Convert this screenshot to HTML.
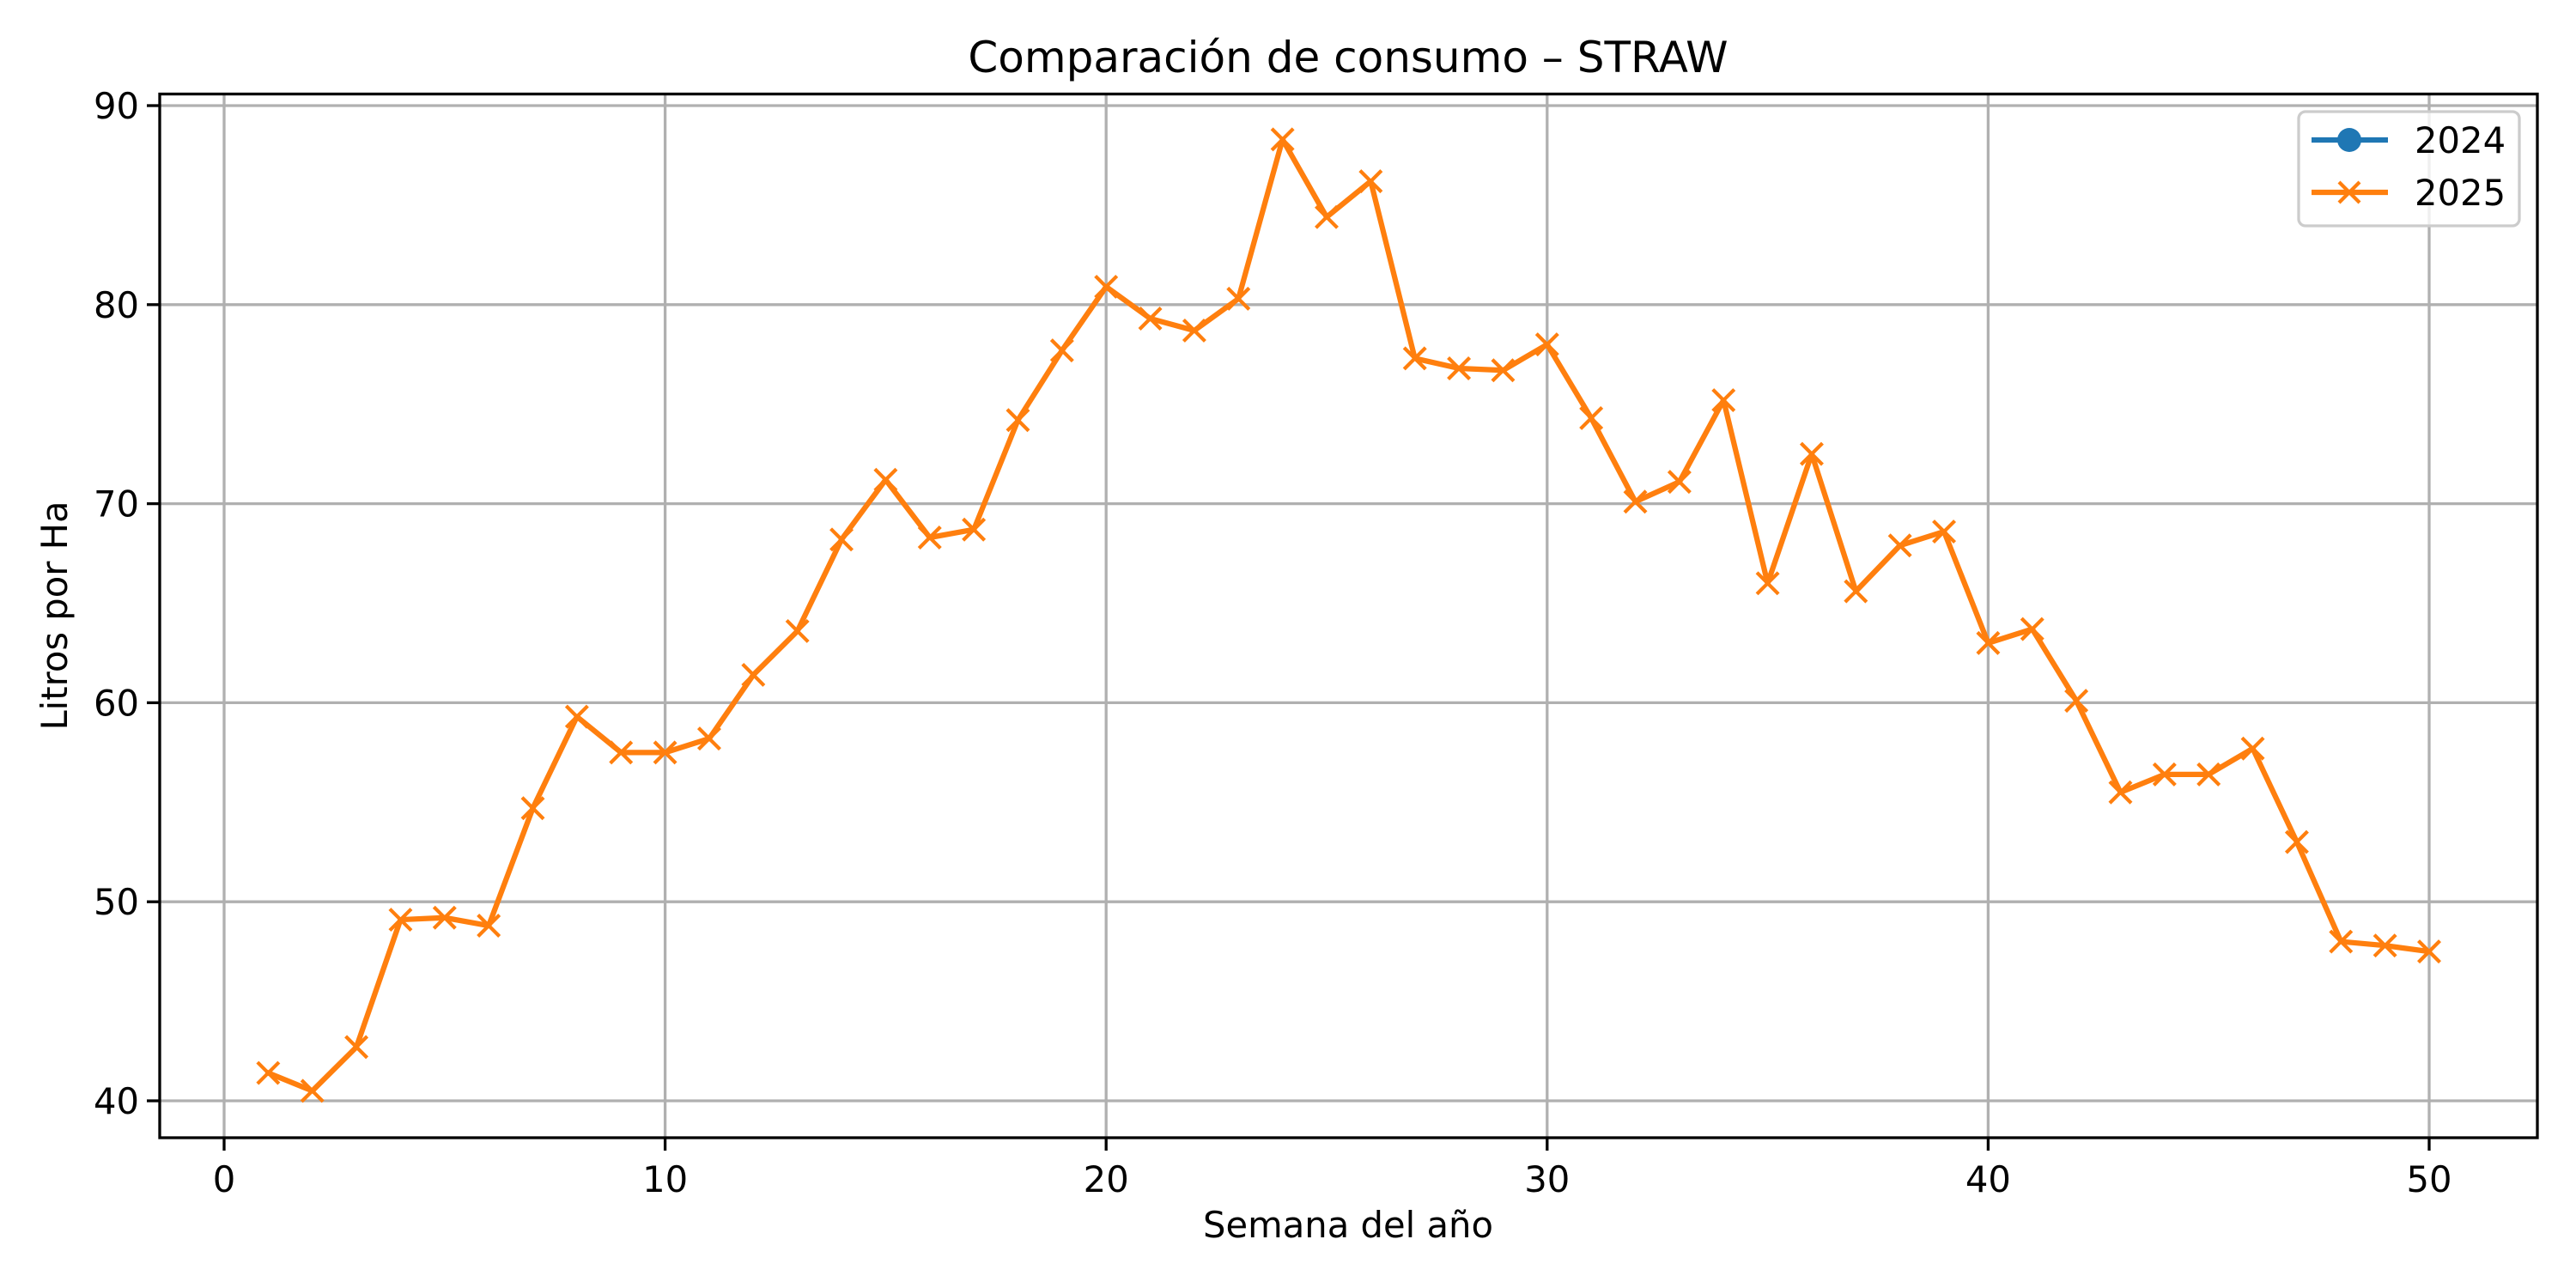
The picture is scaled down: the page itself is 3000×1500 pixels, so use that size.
<!DOCTYPE html>
<html><head><meta charset="utf-8"><style>
html,body{margin:0;padding:0;background:#fff}
svg{display:block}
text{font-family:"DejaVu Sans","Liberation Sans",sans-serif;fill:#000}
</style></head><body>
<svg id="chart" width="3000" height="1500" viewBox="0 0 3000 1500" xmlns="http://www.w3.org/2000/svg">
<rect width="3000" height="1500" fill="#fff"/>
<g id="grid"></g>
<g id="series"></g>
<rect x="186" y="109.5" width="2769" height="1215.5" fill="none" stroke="#000" stroke-width="3.3"/>
<g id="ticks"></g>
<text x="1570" y="84" font-size="50" text-anchor="middle">Comparación de consumo – STRAW</text>
<text x="1570" y="1441" font-size="41.7" text-anchor="middle">Semana del año</text>
<text x="0" y="0" font-size="41.7" text-anchor="middle" transform="translate(78,717) rotate(-90)">Litros por Ha</text>
<g>
<rect x="2677" y="130" width="257" height="133" rx="8" fill="#fff" fill-opacity="0.8" stroke="#ccc" stroke-width="3.3"/>
<g>
<line x1="2692" y1="163" x2="2781" y2="163" stroke="#1f77b4" stroke-width="6.25"/>
<circle cx="2736" cy="163" r="14" fill="#1f77b4"/>
<text x="2812" y="178" font-size="41.7">2024</text></g>
<g>
<line x1="2692" y1="224" x2="2781" y2="224" stroke="#ff7f0e" stroke-width="6.25"/>
<path d="M2724,212L2748,236M2724,236L2748,212" stroke="#ff7f0e" stroke-width="4.2"/>
<text x="2812" y="239" font-size="41.7">2025</text></g>
</g>
</svg>
<script>
const weeks=[1,2,3,4,5,6,7,8,9,10,11,12,13,14,15,16,17,18,19,20,21,22,23,24,25,26,27,28,29,30,31,32,33,34,35,36,37,38,39,40,41,42,43,44,45,46,47,48,49,50];
const values2025=[41.4,40.5,42.7,49.1,49.2,48.8,54.7,59.3,57.5,57.5,58.2,61.4,63.6,68.2,71.2,68.3,68.7,74.2,77.7,80.9,79.3,78.7,80.3,88.3,84.4,86.2,77.3,76.8,76.7,78.0,74.3,70.1,71.1,75.2,66.0,72.5,65.6,67.9,68.6,63.0,63.7,60.1,55.5,56.4,56.4,57.7,53.0,48.0,47.8,47.5];
const values2024=[];
const xTicks=[0,10,20,30,40,50];
const yTicks=[40,50,60,70,80,90];
const NS="http://www.w3.org/2000/svg";
function xs(v){return 261+(v-0)*(2829-261)/50;}
function ys(v){return 1282-(v-40)*(1282-123)/50;}
function mk(t,a,p){const e=document.createElementNS(NS,t);for(const k in a)e.setAttribute(k,a[k]);p.appendChild(e);return e;}
const grid=document.getElementById('grid'),ticks=document.getElementById('ticks'),ser=document.getElementById('series');
xTicks.forEach(t=>{const x=xs(t);
const g=mk('line',{x1:x,y1:109.5,x2:x,y2:1325,stroke:'#b0b0b0','stroke-width':3.3},grid);


mk('line',{x1:x,y1:1325,x2:x,y2:1340,stroke:'#000','stroke-width':3.3},ticks);
const l=mk('text',{x:x,y:1388,'font-size':41.7,'text-anchor':'middle'},ticks);l.textContent=t;

});
yTicks.forEach(t=>{const y=ys(t);
const g=mk('line',{x1:186,y1:y,x2:2955,y2:y,stroke:'#b0b0b0','stroke-width':3.3},grid);


mk('line',{x1:171,y1:y,x2:186,y2:y,stroke:'#000','stroke-width':3.3},ticks);
const l=mk('text',{x:162,y:y+15,'font-size':41.7,'text-anchor':'end'},ticks);l.textContent=t;

});
const pts=weeks.map((w,i)=>xs(w)+','+ys(values2025[i])).join(' ');
const pl=mk('polyline',{points:pts,fill:'none',stroke:'#ff7f0e','stroke-width':6.25,'stroke-linejoin':'round','stroke-linecap':'square'},ser);


weeks.forEach((w,i)=>{const x=xs(w),y=ys(values2025[i]);
const m=mk('path',{d:`M${x-12.5},${y-12.5}L${x+12.5},${y+12.5}M${x-12.5},${y+12.5}L${x+12.5},${y-12.5}`,stroke:'#ff7f0e','stroke-width':4.2},ser);

});
</script>
</body></html>
